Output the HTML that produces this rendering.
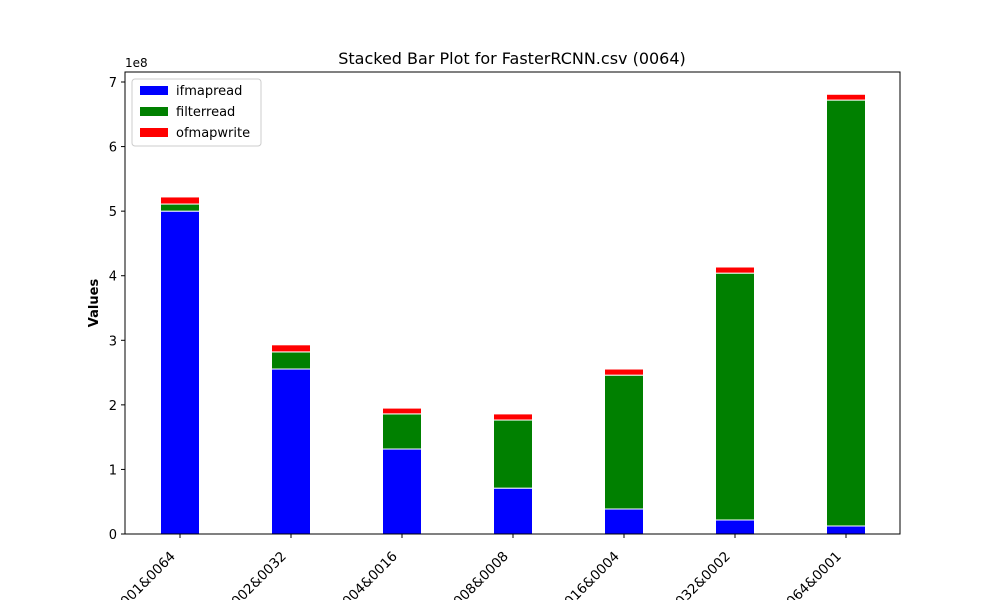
<!DOCTYPE html>
<html><head><meta charset="utf-8"><style>
body{margin:0;background:#fff;font-family:"Liberation Sans","DejaVu Sans",sans-serif}
</style></head><body>
<svg id="chart" width="1000" height="600" xmlns="http://www.w3.org/2000/svg" font-family="DejaVu Sans, Liberation Sans, sans-serif">
<rect width="1000" height="600" fill="#fff"/>
<text x="512" y="64" font-size="16" text-anchor="middle">Stacked Bar Plot for FasterRCNN.csv (0064)</text>
<g id="plot"></g>
<rect x="125" y="72" width="775" height="462" fill="none" stroke="#000" stroke-width="1"/>
<text x="98" y="303" font-size="13" font-weight="bold" text-anchor="middle" transform="rotate(-90 98 303)">Values</text>
<text x="125" y="67" font-size="12">1e8</text>
<g>
<rect x="132" y="79" width="129" height="67" rx="3" fill="#fff" stroke="#ccc"/>
<rect x="140" y="86" width="28" height="9" fill="blue"/><text x="176" y="95" font-size="13">ifmapread</text>
<rect x="140" y="107" width="28" height="9" fill="green"/><text x="176" y="116" font-size="13">filterread</text>
<rect x="140" y="128" width="28" height="9" fill="red"/><text x="176" y="137" font-size="13">ofmapwrite</text>
</g>
</svg>
<script>
const categories=["0001&0064","0002&0032","0004&0016","0008&0008","0016&0004","0032&0002","0064&0001"];
const ifmapread=[5.0,2.555,1.316,0.71,0.387,0.217,0.124];
const filterread=[0.11,0.265,0.544,1.055,2.073,3.823,6.596];
const ofmapwrite=[0.11,0.11,0.09,0.095,0.095,0.095,0.09];
const yTicks=[0,1,2,3,4,5,6,7];
const NS="http://www.w3.org/2000/svg";
const g=document.getElementById('plot');
const x=i=>180+i*111;
const y=v=>534-v*64.57;
const bw=39;
function mk(t,a){const e=document.createElementNS(NS,t);for(const k in a)e.setAttribute(k,a[k]);g.appendChild(e);return e;}
const series=[[ifmapread,'blue','ifmapread'],[filterread,'green','filterread'],[ofmapwrite,'red','ofmapwrite']];
categories.forEach((c,i)=>{
  let base=0;
  series.forEach(([arr,col,nm])=>{
    const r=mk('rect',{x:x(i)-bw/2,y:y(base+arr[i]),width:bw,height:arr[i]*64.57,fill:col,stroke:'#fff','stroke-width':1});
    
    
    base+=arr[i];
  });
  const tk=mk('line',{x1:x(i),x2:x(i),y1:534,y2:538,stroke:'#000'});
  
  
  const lx=x(i)-4, ly=557;
  const t=mk('text',{x:lx,y:ly,'font-size':13.5,'text-anchor':'end',transform:`rotate(-45 ${lx} ${ly})`});
  t.textContent=c;
  
  
});
yTicks.forEach(v=>{
  const tk=mk('line',{x1:121,x2:125,y1:y(v),y2:y(v),stroke:'#000'});
  
  
  const t=mk('text',{x:117,y:y(v)+5,'font-size':13,'text-anchor':'end'});
  t.textContent=v;
  
  
});
</script>
</body></html>
